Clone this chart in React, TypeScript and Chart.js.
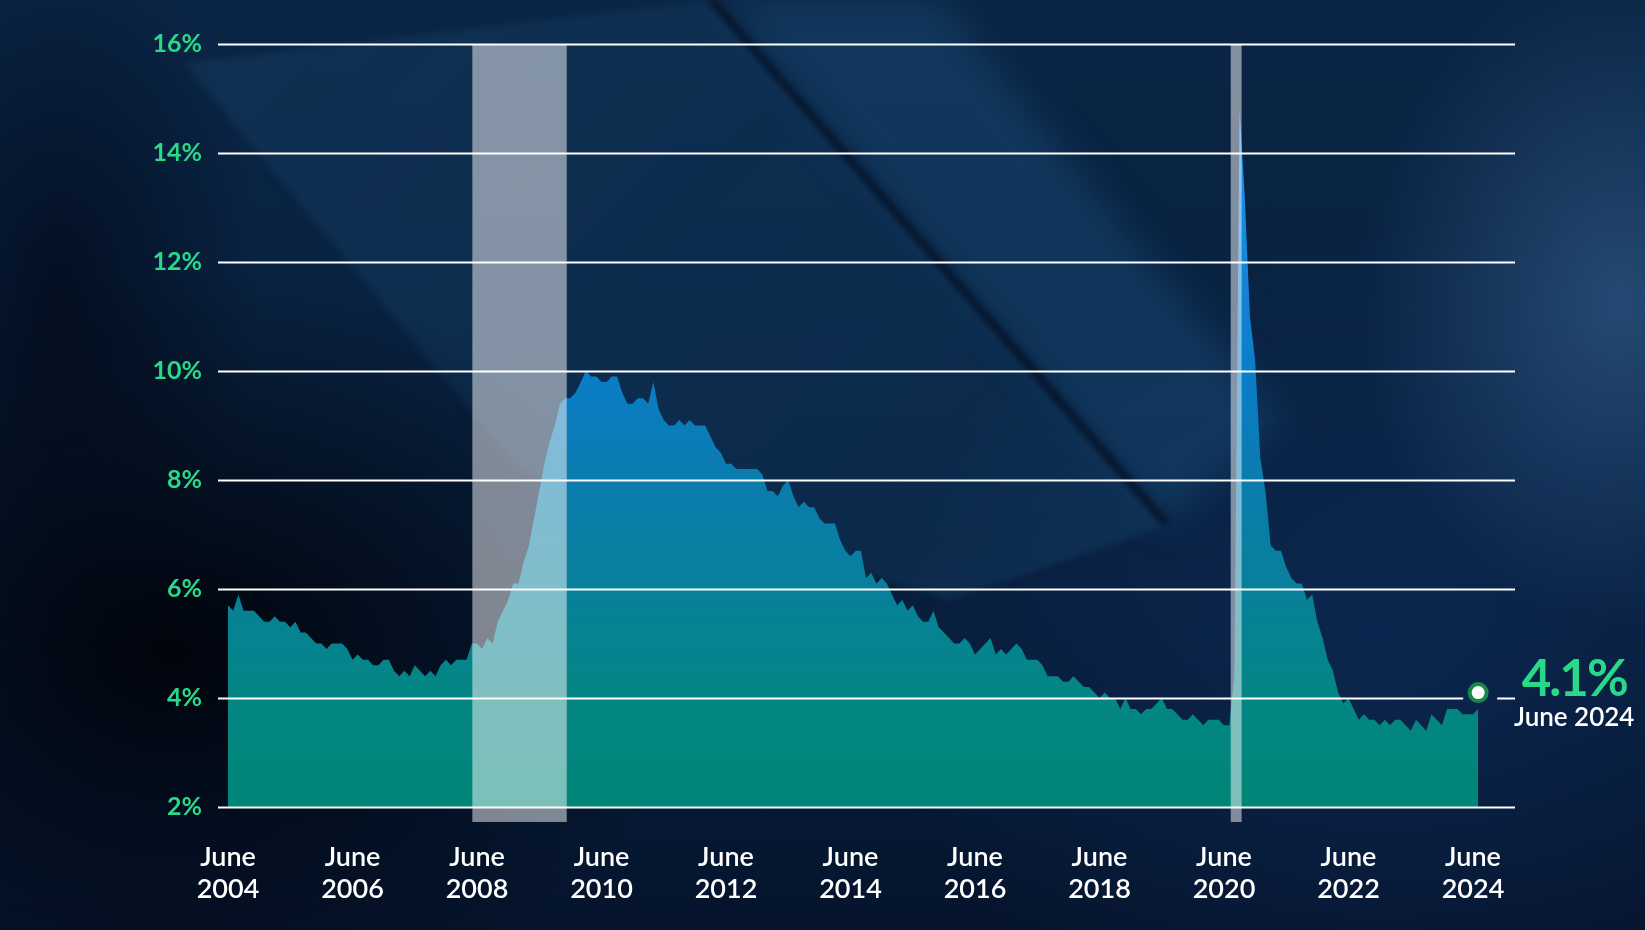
import { useEffect, useRef } from 'react';
import { Chart, registerables } from 'chart.js';

Chart.register(...registerables);

// Monthly unemployment rate (%), January of each year onward
const rate2004 = [5.7, 5.6, 5.9, 5.6, 5.6, 5.6, 5.5, 5.4, 5.4, 5.5, 5.4, 5.4];
const rate2005 = [5.3, 5.4, 5.2, 5.2, 5.1, 5.0, 5.0, 4.9, 5.0, 5.0, 5.0, 4.9];
const rate2006 = [4.7, 4.8, 4.7, 4.7, 4.6, 4.6, 4.7, 4.7, 4.5, 4.4, 4.5, 4.4];
const rate2007 = [4.6, 4.5, 4.4, 4.5, 4.4, 4.6, 4.7, 4.6, 4.7, 4.7, 4.7, 5.0];
const rate2008 = [5.0, 4.9, 5.1, 5.0, 5.4, 5.6, 5.8, 6.1, 6.1, 6.5, 6.8, 7.3];
const rate2009 = [7.8, 8.3, 8.7, 9.0, 9.4, 9.5, 9.5, 9.6, 9.8, 10.0, 9.9, 9.9];
const rate2010 = [9.8, 9.8, 9.9, 9.9, 9.6, 9.4, 9.4, 9.5, 9.5, 9.4, 9.8, 9.3];
const rate2011 = [9.1, 9.0, 9.0, 9.1, 9.0, 9.1, 9.0, 9.0, 9.0, 8.8, 8.6, 8.5];
const rate2012 = [8.3, 8.3, 8.2, 8.2, 8.2, 8.2, 8.2, 8.1, 7.8, 7.8, 7.7, 7.9];
const rate2013 = [8.0, 7.7, 7.5, 7.6, 7.5, 7.5, 7.3, 7.2, 7.2, 7.2, 6.9, 6.7];
const rate2014 = [6.6, 6.7, 6.7, 6.2, 6.3, 6.1, 6.2, 6.1, 5.9, 5.7, 5.8, 5.6];
const rate2015 = [5.7, 5.5, 5.4, 5.4, 5.6, 5.3, 5.2, 5.1, 5.0, 5.0, 5.1, 5.0];
const rate2016 = [4.8, 4.9, 5.0, 5.1, 4.8, 4.9, 4.8, 4.9, 5.0, 4.9, 4.7, 4.7];
const rate2017 = [4.7, 4.6, 4.4, 4.4, 4.4, 4.3, 4.3, 4.4, 4.3, 4.2, 4.2, 4.1];
const rate2018 = [4.0, 4.1, 4.0, 4.0, 3.8, 4.0, 3.8, 3.8, 3.7, 3.8, 3.8, 3.9];
const rate2019 = [4.0, 3.8, 3.8, 3.7, 3.6, 3.6, 3.7, 3.6, 3.5, 3.6, 3.6, 3.6];
const rate2020 = [3.5, 3.5, 4.4, 14.8, 13.2, 11.0, 10.2, 8.4, 7.8, 6.8, 6.7, 6.7];
const rate2021 = [6.4, 6.2, 6.1, 6.1, 5.8, 5.9, 5.4, 5.1, 4.7, 4.5, 4.1, 3.9];
const rate2022 = [4.0, 3.8, 3.6, 3.7, 3.6, 3.6, 3.5, 3.6, 3.5, 3.6, 3.6, 3.5];
const rate2023 = [3.4, 3.6, 3.5, 3.4, 3.7, 3.6, 3.5, 3.8, 3.8, 3.8, 3.7, 3.7];
const rate2024 = [3.7, 3.8];

const rateSeries = [
  ...rate2004, ...rate2005, ...rate2006, ...rate2007, ...rate2008, ...rate2009,
  ...rate2010, ...rate2011, ...rate2012, ...rate2013, ...rate2014, ...rate2015,
  ...rate2016, ...rate2017, ...rate2018, ...rate2019, ...rate2020, ...rate2021,
  ...rate2022, ...rate2023, ...rate2024,
];

// Axis ticks (x in months from the first observation)
const xTickMonths = [0, 24, 48, 72, 96, 120, 144, 168, 192, 216, 240];
const xTickYears = ['2004', '2006', '2008', '2010', '2012', '2014', '2016', '2018', '2020', '2022', '2024'];
const yTickValues = [2, 4, 6, 8, 10, 12, 14, 16];

// Recessions, as [start, end] month offsets
const recessionSpans: [number, number][] = [
  [47.1, 65.3],
  [193.3, 195.4],
];

const latestRate = 4.1;
const latestLabel = 'June 2024';

const GREEN = '#29d98a';
const FONT = 'Lato, "Noto Sans", sans-serif';

export default function App() {
  const canvasRef = useRef<HTMLCanvasElement | null>(null);

  useEffect(() => {
    const canvas = canvasRef.current;
    if (!canvas) return;
    const lastIndex = rateSeries.length - 1;

    const recessionPlugin = {
      id: 'recessionBands',
      afterDatasetsDraw(chart: any) {
        const { ctx } = chart;
        const xs = chart.scales.x;
        const ys = chart.scales.y;
        const top = ys.getPixelForValue(16);
        const bottom = ys.getPixelForValue(2) + 15;
        ctx.save();
        ctx.fillStyle = 'rgba(250, 250, 252, 0.5)';
        recessionSpans.forEach(([s, e]) => {
          const x0 = xs.getPixelForValue(s);
          const x1 = xs.getPixelForValue(e);
          ctx.fillRect(x0, top, x1 - x0, bottom - top);
        });
        ctx.restore();
      },
    };

    const gridPlugin = {
      id: 'gridOverlay',
      afterDatasetsDraw(chart: any) {
        const { ctx, chartArea } = chart;
        const xs = chart.scales.x;
        const ys = chart.scales.y;
        const mx = xs.getPixelForValue(lastIndex);
        const my = ys.getPixelForValue(latestRate);
        ctx.save();
        ctx.strokeStyle = '#ffffff';
        ctx.lineWidth = 2.2;
        yTickValues.forEach((v) => {
          const y = Math.round(ys.getPixelForValue(v)) + 0.5;
          ctx.beginPath();
          if (Math.abs(y - my) < 14) {
            ctx.moveTo(chartArea.left, y);
            ctx.lineTo(mx - 15, y);
            ctx.moveTo(mx + 19, y);
            ctx.lineTo(chartArea.right, y);
          } else {
            ctx.moveTo(chartArea.left, y);
            ctx.lineTo(chartArea.right, y);
          }
          ctx.stroke();
        });
        ctx.restore();
      },
    };

    const latestPlugin = {
      id: 'latestMarker',
      afterDatasetsDraw(chart: any) {
        const { ctx } = chart;
        const xs = chart.scales.x;
        const ys = chart.scales.y;
        const mx = xs.getPixelForValue(lastIndex);
        const my = ys.getPixelForValue(latestRate);
        ctx.save();
        ctx.beginPath();
        ctx.arc(mx, my, 10.5, 0, Math.PI * 2);
        ctx.fillStyle = '#17884a';
        ctx.fill();
        ctx.beginPath();
        ctx.arc(mx, my, 6.5, 0, Math.PI * 2);
        ctx.fillStyle = '#ffffff';
        ctx.fill();

        const cx = mx + 96;
        ctx.textAlign = 'center';
        ctx.textBaseline = 'alphabetic';
        ctx.fillStyle = GREEN;
        ctx.font = `700 51px ${FONT}`;
        (ctx as any).letterSpacing = '-2px';
        ctx.fillText(`${latestRate}%`, cx, my + 3);
        (ctx as any).letterSpacing = '0px';
        ctx.fillStyle = '#ffffff';
        ctx.font = `600 26px ${FONT}`;
        ctx.fillText(latestLabel, cx, my + 33);
        ctx.restore();
      },
    };

    const chart = new Chart(canvas, {
      type: 'line',
      data: {
        datasets: [
          {
            label: 'Unemployment rate',
            data: rateSeries.map((v, i) => ({ x: i, y: v })),
            borderWidth: 0,
            pointRadius: 0,
            tension: 0,
            fill: 'start',
            backgroundColor: (context: any) => {
              const { chart: c } = context;
              const area = c.chartArea;
              if (!area) return '#0a7cae';
              const ys = c.scales.y;
              const g = c.ctx.createLinearGradient(0, ys.getPixelForValue(16), 0, ys.getPixelForValue(2));
              g.addColorStop(0, '#2a9af4');
              g.addColorStop(0.43, '#0a7dc8');
              g.addColorStop(0.57, '#0a7cae');
              g.addColorStop(0.71, '#08809b');
              g.addColorStop(0.86, '#048683');
              g.addColorStop(1, '#008577');
              return g;
            },
          },
        ],
      },
      options: {
        responsive: false,
        animation: false,
        devicePixelRatio: 1,
        layout: { padding: { top: 44, right: 130, bottom: 0, left: 0 } },
        plugins: {
          legend: { display: false },
          tooltip: { enabled: false },
        },
        scales: {
          x: {
            type: 'linear',
            bounds: 'data',
            min: -1.93,
            max: 248.1,
            afterFit: (s: any) => {
              s.height = 123;
            },
            afterBuildTicks: (s: any) => {
              s.ticks = xTickMonths.map((v) => ({ value: v }));
            },
            grid: { display: false, drawTicks: false },
            border: { display: false },
            ticks: {
              autoSkip: false,
              maxRotation: 0,
              minRotation: 0,
              padding: 35,
              color: '#ffffff',
              font: { family: FONT, size: 27, weight: 600, lineHeight: 1.17 },
              callback: (_v: any, index: number) => ['June', xTickYears[index]],
            },
          },
          y: {
            min: 2,
            max: 16,
            afterFit: (s: any) => {
              s.width = 218;
            },
            afterBuildTicks: (s: any) => {
              s.ticks = yTickValues.map((v) => ({ value: v }));
            },
            grid: { display: false, drawTicks: false },
            border: { display: false },
            ticks: {
              padding: 16,
              color: GREEN,
              font: { family: FONT, size: 25, weight: 700 },
              callback: (v: any) => `${v}%`,
            },
          },
        },
      },
      plugins: [recessionPlugin, gridPlugin, latestPlugin],
    });

    return () => chart.destroy();
  }, []);

  const layer = { position: 'absolute' as const, left: 0, top: 0, width: 1645, height: 930 };

  return (
    <div
      style={{
        position: 'fixed',
        left: 0,
        top: 0,
        width: 1645,
        height: 930,
        overflow: 'hidden',
        background: 'linear-gradient(180deg, #0a2545 0%, #08213f 45%, #061a36 80%, #05142c 100%)',
      }}
    >
      {/* right-hand haze */}
      <div
        style={{
          ...layer,
          background:
            'radial-gradient(ellipse 260px 330px at 1620px 300px, rgba(60,105,155,0.55), rgba(60,105,155,0) 100%),' +
            'radial-gradient(ellipse 520px 420px at 1380px 640px, rgba(18,50,105,0.45), rgba(18,50,105,0) 100%)',
        }}
      />
      {/* soft lighter panel right of the diagonal */}
      <div style={{ ...layer, filter: 'blur(18px)' }}>
        <div
          style={{
            ...layer,
            background: 'rgba(26,78,122,0.45)',
            clipPath: 'polygon(720px 0px, 940px 0px, 1280px 420px, 1165px 525px)',
          }}
        />
      </div>
      {/* tilted panel */}
      <div style={{ ...layer, filter: 'blur(3px)' }}>
        <div
          style={{
            ...layer,
            background: 'linear-gradient(135deg, rgba(24,64,104,0.45) 0%, rgba(18,58,96,0.4) 55%, rgba(26,78,118,0.6) 100%)',
            clipPath: 'polygon(184px 63px, 713px 0px, 1168px 525px, 950px 600px, 520px 470px)',
          }}
        />
        <div
          style={{
            ...layer,
            background: 'rgba(3,14,32,0.75)',
            clipPath: 'polygon(706px 0px, 716px 0px, 1170px 522px, 1162px 526px)',
          }}
        />
      </div>
      {/* dark left and lower-left areas */}
      <div
        style={{
          ...layer,
          background:
            'radial-gradient(ellipse 520px 380px at 170px 650px, rgba(0,3,10,0.95), rgba(0,3,10,0) 100%),' +
            'radial-gradient(ellipse 200px 360px at 60px 300px, rgba(2,10,26,0.8), rgba(2,10,26,0) 100%)',
        }}
      />
      <canvas ref={canvasRef} width={1645} height={930} style={{ position: 'absolute', left: 0, top: 0 }} />
    </div>
  );
}
